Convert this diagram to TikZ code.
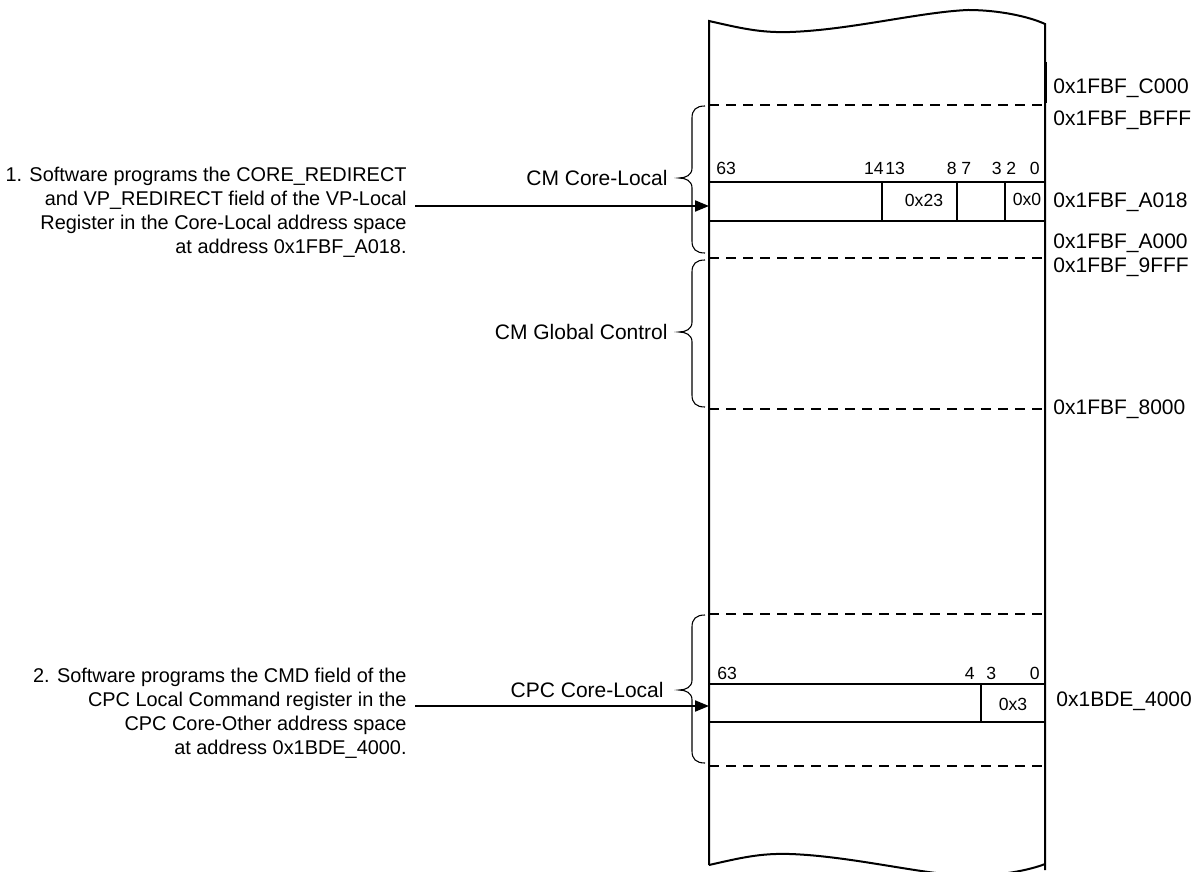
\documentclass[tikz,border=0pt]{standalone}
\usepackage{fontspec}
\setmainfont{Liberation Sans}
\usetikzlibrary{arrows.meta}
\tikzset{
  frame/.style={line width=1pt},
  dashsep/.style={line width=1pt, dash pattern=on 5pt off 3.5pt},
  reg/.style={line width=1pt},
  brace/.style={line width=0.55pt},
  bigtxt/.style={inner sep=0pt, font=\fontsize{10.5}{12}\selectfont},
  notetxt/.style={inner sep=0pt, font=\fontsize{9.95}{12}\selectfont},
  smalltxt/.style={inner sep=0pt, font=\fontsize{8.8}{10}\selectfont},
  ptr/.style={line width=1pt, -{Triangle[length=7pt,width=5.5pt]}},
}
\begin{document}
\begin{tikzpicture}[x=0.5pt,y=-0.5pt]
\useasboundingbox (0,0) rectangle (1202,871);
\begin{scope}
\clip (0,0) rectangle (1202,871);
% column outline
\draw[frame] (709,865) -- (709,21)
  .. controls (740,28) and (760,33) .. (790,32)
  .. controls (850,30) and (920,12) .. (968,10)
  .. controls (1000,10) and (1030,17) .. (1045,24) -- (1045,870);
\draw[frame] (709,865)
  .. controls (740,858) and (760,853) .. (790,854)
  .. controls (850,856) and (920,874) .. (968,876)
  .. controls (1000,876) and (1030,870) .. (1045,864);
\end{scope}
\draw[line width=1.2pt] (1046,62) -- (1046,103);
% dashed separators
\foreach \yy in {105,258,409,614,766}
  \draw[dashsep] (709,\yy) -- (1045,\yy);
% register 1
\draw[reg] (709,182) -- (1045,182) (709,221) -- (1045,221);
\draw[reg] (882,182) -- (882,221) (957,182) -- (957,221) (1005,182) -- (1005,221);
\node[smalltxt, anchor=base west] (b63a) at (716,175) {63};
\node[smalltxt, anchor=base east] (b14) at (884,175) {14};
\node[smalltxt, anchor=base west] (b13) at (885,175) {13};
\node[smalltxt, anchor=base east] (b8) at (957,175) {8};
\node[smalltxt, anchor=base west] (b7) at (961,175) {7};
\node[smalltxt, anchor=base east] (b3a) at (1002,175) {3};
\node[smalltxt, anchor=base west] (b2) at (1006,175) {2};
\node[smalltxt, anchor=base east] (b0a) at (1040,175) {0};
\node[smalltxt] (v23) at (924,200) {0x23};
\node[smalltxt] (v0) at (1027,199) {0x0};
% register 2
\draw[reg] (709,684) -- (1045,684) (709,722) -- (1045,722);
\draw[reg] (981,684) -- (981,722);
\node[smalltxt, anchor=base west] (c63) at (717,679) {63};
\node[smalltxt, anchor=base east] (c4) at (975,679) {4};
\node[smalltxt, anchor=base west] (c3) at (986,679) {3};
\node[smalltxt, anchor=base east] (c0) at (1040,679) {0};
\node[smalltxt] (v3) at (1013,704) {0x3};
% address labels
\node[bigtxt, anchor=west] (aC000) at (1053,88) {0x1FBF\_C000};
\node[bigtxt, anchor=west] (aBFFF) at (1053,120) {0x1FBF\_BFFF};
\node[bigtxt, anchor=west] (aA018) at (1053,202) {0x1FBF\_A018};
\node[bigtxt, anchor=west] (aA000) at (1053,243) {0x1FBF\_A000};
\node[bigtxt, anchor=west] (a9FFF) at (1053,267) {0x1FBF\_9FFF};
\node[bigtxt, anchor=west] (a8000) at (1053,409) {0x1FBF\_8000};
\node[bigtxt, anchor=west] (a4000) at (1056,701) {0x1BDE\_4000};
% braces
\draw[brace] (705,106) .. controls (696,106) and (692,110) .. (692,118) -- (692,168)
  .. controls (692,175) and (686,178) .. (679,178)
  .. controls (686,178) and (692,181) .. (692,188) -- (692,241)
  .. controls (692,249) and (696,253) .. (705,253);
\draw[brace] (705,260) .. controls (696,260) and (692,264) .. (692,272) -- (692,322)
  .. controls (692,329) and (686,332) .. (679,332)
  .. controls (686,332) and (692,335) .. (692,342) -- (692,395)
  .. controls (692,403) and (696,407) .. (705,407);
\draw[brace] (705,615) .. controls (696,615) and (692,619) .. (692,627) -- (692,680)
  .. controls (692,687) and (686,690) .. (679,690)
  .. controls (686,690) and (692,693) .. (692,700) -- (692,751)
  .. controls (692,759) and (696,763) .. (705,763);
\node[bigtxt, anchor=east] (lcl) at (668,178) {CM Core-Local};
\node[bigtxt, anchor=east] (lgc) at (668,332) {CM Global Control};
\node[bigtxt, anchor=east] (lcpc) at (664,690) {CPC Core-Local};
% left notes
\node[notetxt, anchor=east, align=right] (n1) at (407,212)
  {1. Software programs the CORE\_REDIRECT\\and VP\_REDIRECT field of the VP-Local\\Register in the Core-Local address space\\at address 0x1FBF\_A018.};
\node[notetxt, anchor=east, align=right] (n2) at (407,713)
  {2. Software programs the CMD field of the\\CPC Local Command register in the\\CPC Core-Other address space\\at address 0x1BDE\_4000.};
\coordinate (s1) at (415,206);
\coordinate (e1) at (709,206);
\coordinate (s2) at (415,706);
\coordinate (e2) at (709,706);
\draw[ptr] (s1) -- (e1);
\draw[ptr] (s2) -- (e2);
\end{tikzpicture}
\end{document}
